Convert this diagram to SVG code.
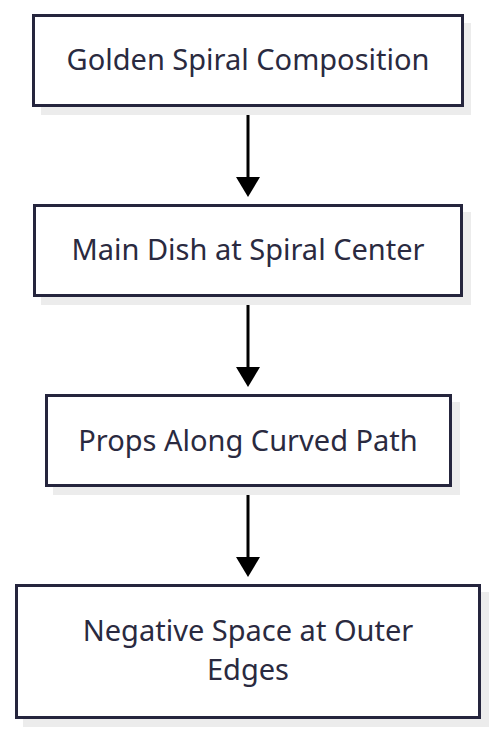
<svg xmlns="http://www.w3.org/2000/svg" width="496" height="734" viewBox="0 0 496 734">
<style>
.box{fill:#ffffff;stroke:#25253d;stroke-width:3}
.sh{fill:#ececec}
.t{font-family:"Noto Sans","Open Sans",sans-serif;font-size:29px;fill:#2a2a40;text-anchor:middle}
.e{stroke:#000;stroke-width:3;fill:none}
.ah{fill:#000}
</style>
<rect width="496" height="734" fill="#fff"/>
<g id="edges">
<line class="e" x1="248" y1="107" x2="248" y2="180"/>
<polygon class="ah" points="236,177 260,177 248,197"/>
<line class="e" x1="248" y1="297" x2="248" y2="370"/>
<polygon class="ah" points="236,367 260,367 248,387"/>
<line class="e" x1="248" y1="487" x2="248" y2="560"/>
<polygon class="ah" points="236,557 260,557 248,577"/>
</g>
<g id="n1">
<rect class="sh" x="41" y="23" width="430" height="92"/>
<rect class="box" x="33.5" y="15.5" width="429" height="90"/>
<text class="t" x="248" y="70">Golden Spiral Composition</text>
</g>
<g id="n2">
<rect class="sh" x="41" y="212" width="430" height="93"/>
<rect class="box" x="34.5" y="205.5" width="427" height="90"/>
<text class="t" x="248" y="260">Main Dish at Spiral Center</text>
</g>
<g id="n3">
<rect class="sh" x="53" y="402" width="407" height="93"/>
<rect class="box" x="46.5" y="395.5" width="404" height="90"/>
<text class="t" x="248" y="451">Props Along Curved Path</text>
</g>
<g id="n4">
<rect class="sh" x="23" y="592" width="466" height="135"/>
<rect class="box" x="16.5" y="585.5" width="463" height="132"/>
<text class="t" x="248" y="641">Negative Space at Outer</text>
<text class="t" x="248" y="680">Edges</text>
</g>
</svg>
